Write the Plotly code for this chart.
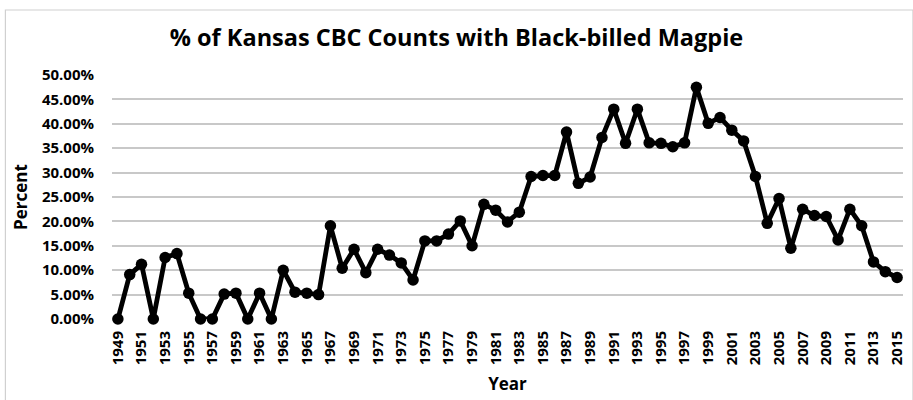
import plotly.graph_objects as go

years = list(range(1949, 2016))
percent = [0.0, 9.1, 11.2, 0.0, 12.6, 13.4, 5.3, 0.0, 0.0, 5.1,
           5.3, 0.0, 5.3, 0.0, 10.0, 5.5, 5.3, 5.0, 19.1, 10.4,
           14.3, 9.5, 14.3, 13.1, 11.5, 8.0, 16.0, 16.0, 17.4, 20.1,
           15.0, 23.5, 22.3, 19.9, 21.9, 29.2, 29.4, 29.4, 38.3, 27.8,
           29.1, 37.2, 43.0, 36.0, 43.0, 36.1, 36.0, 35.3, 36.1, 47.5,
           40.1, 41.3, 38.7, 36.5, 29.2, 19.6, 24.7, 14.5, 22.5, 21.2,
           21.0, 16.2, 22.5, 19.1, 11.7, 9.7, 8.5]
x_ticks = list(range(1949, 2016, 2))
x_ticklabels = [str(y) for y in x_ticks]
y_ticks = [0, 5, 10, 15, 20, 25, 30, 35, 40, 45, 50]
y_ticklabels = [f"{v:.2f}%" for v in y_ticks]

title_text = "% of Kansas CBC Counts with Black-billed Magpie"

FONT = "Open Sans"
W, H = 913, 400
L, R, T, B = 112, 7, 75, 81
pw, ph = W - L - R, H - T - B

fig = go.Figure()
fig.add_trace(go.Scatter(
    x=years, y=percent, mode="lines+markers",
    line=dict(color="black", width=4.8),
    marker=dict(color="black", size=11.5),
    cliponaxis=False,
    showlegend=False,
))

fig.update_layout(
    width=W, height=H,
    margin=dict(l=L, r=R, t=T, b=B),
    paper_bgcolor="white", plot_bgcolor="white",
    font=dict(family=FONT, color="black"),
    title=dict(text=title_text, x=0.5, xref="container", xanchor="center",
               y=1 - 38 / H, yanchor="middle", yref="container",
               font=dict(family=FONT, size=23.5, weight="bold", color="black")),
    xaxis=dict(
        range=[1948.5, 2015.5], tickmode="array", tickvals=x_ticks,
        ticktext=x_ticklabels, tickangle=-90, showgrid=False, zeroline=False,
        showline=False, ticks="", ticklabelstandoff=8,
        tickfont=dict(family=FONT, size=15, weight="bold", color="black"),
        title=dict(text="Year", standoff=13,
                   font=dict(family=FONT, size=17, weight="bold", color="black")),
    ),
    yaxis=dict(
        range=[0, 50], tickmode="array", tickvals=y_ticks,
        ticktext=y_ticklabels, showgrid=True, gridcolor="#c8c8c8",
        gridwidth=1.5, zeroline=False, showline=False, ticks="",
        ticklabelstandoff=17,
        tickfont=dict(family=FONT, size=15, weight="bold", color="black"),
        title=dict(text="Percent", standoff=9,
                   font=dict(family=FONT, size=17, weight="bold", color="black")),
    ),
)

# chart border
fig.add_shape(type="rect", xref="paper", yref="paper",
              x0=(5 - L) / pw, x1=(W + 3 - L) / pw,
              y0=-(H + 3 - T - ph) / ph, y1=1 + (T - 10) / ph,
              line=dict(color="#d0d0d0", width=1.2), fillcolor="rgba(0,0,0,0)",
              layer="below")

fig.write_html("out.html")
